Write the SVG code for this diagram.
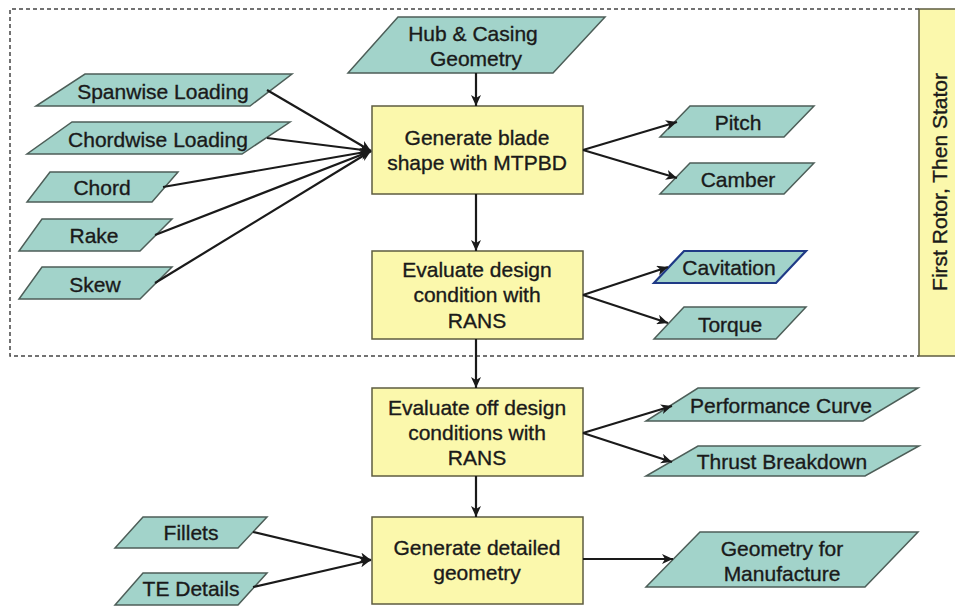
<svg xmlns="http://www.w3.org/2000/svg" width="955" height="606" viewBox="0 0 955 606">
<defs>
<marker id="ah" markerWidth="12" markerHeight="10" refX="11" refY="5" orient="auto" markerUnits="userSpaceOnUse">
<path d="M0,0 L11,5 L0,10 L3,5 Z" fill="#1a1a1a"/>
</marker>
<style>
text{font-family:"Liberation Sans",Arial,sans-serif;font-size:21px;fill:#1a1a1a;stroke:#1a1a1a;stroke-width:0.35;text-anchor:middle}
.para{fill:#a2d3ca;stroke:#4d5e58;stroke-width:1.5}
.box{fill:#fbf8ac;stroke:#5e5c40;stroke-width:1.5}
.conn{stroke:#1a1a1a;stroke-width:2.2;fill:none;marker-end:url(#ah)}
.dash{stroke:#444;stroke-width:1.5;fill:none;stroke-dasharray:4 3}
</style>
</defs>
<rect width="955" height="606" fill="#ffffff"/>
<path class="dash" d="M919,9 L10,9 L10,356 L919,356"/>
<g id="side">
<rect x="919" y="9" width="40" height="347" class="box"/>
<text transform="translate(947,182) rotate(-90)">First Rotor, Then Stator</text>
</g>
<g id="hub"><polygon class="para" points="398,17 605,17 553,73 348,73"/><text x="473" y="41">Hub &amp; Casing</text><text x="476" y="66">Geometry</text></g>
<g id="spanwise"><polygon class="para" points="85,74 292,74 250,106 36,106"/><text x="163" y="99">Spanwise Loading</text></g>
<g id="chordwise"><polygon class="para" points="72,122 290,122 242,154 27,154"/><text x="158" y="147">Chordwise Loading</text></g>
<g id="chord"><polygon class="para" points="50,172 178,172 152,202 27,202"/><text x="102" y="195">Chord</text></g>
<g id="rake"><polygon class="para" points="42,219 172,219 140,251 19,251"/><text x="94" y="243">Rake</text></g>
<g id="skew"><polygon class="para" points="42,267 172,267 140,299 19,299"/><text x="95" y="292">Skew</text></g>
<g id="genblade"><rect class="box" x="372" y="106" width="211" height="88"/><text x="477" y="145">Generate blade</text><text x="477" y="170">shape with MTPBD</text></g>
<g id="evaldesign"><rect class="box" x="372" y="251" width="211" height="88"/><text x="477" y="277">Evaluate design</text><text x="477" y="302">condition with</text><text x="477" y="328">RANS</text></g>
<g id="evaloff"><rect class="box" x="372" y="388" width="211" height="88"/><text x="477" y="415">Evaluate off design</text><text x="477" y="440">conditions with</text><text x="477" y="465">RANS</text></g>
<g id="gendetail"><rect class="box" x="372" y="517" width="211" height="87"/><text x="477" y="555">Generate detailed</text><text x="477" y="580">geometry</text></g>
<g id="pitch"><polygon class="para" points="690,106 814,106 784,137 660,137"/><text x="738" y="130">Pitch</text></g>
<g id="camber"><polygon class="para" points="690,163 814,163 784,194 660,194"/><text x="738" y="187">Camber</text></g>
<g id="cavitation"><polygon points="684,251 806,251 776,283 654,283" fill="#a2d3ca" stroke="#1f3a86" stroke-width="2.2"/><text x="729" y="275">Cavitation</text></g>
<g id="torque"><polygon class="para" points="684,307 806,307 776,339 654,339"/><text x="730" y="332">Torque</text></g>
<g id="perf"><polygon class="para" points="698,388 918,388 863,421 646,421"/><text x="781" y="413">Performance Curve</text></g>
<g id="thrust"><polygon class="para" points="698,446 919,446 865,476 646,476"/><text x="782" y="469">Thrust Breakdown</text></g>
<g id="geomfm"><polygon class="para" points="700,532 918,532 865,587 646,587"/><text x="782" y="556">Geometry for</text><text x="782" y="581">Manufacture</text></g>
<g id="fillets"><polygon class="para" points="143,517 267,517 238,548 115,548"/><text x="191" y="540">Fillets</text></g>
<g id="te"><polygon class="para" points="143,573 267,573 238,605 115,605"/><text x="191" y="596">TE Details</text></g>
<g id="connectors">
<line class="conn" x1="476" y1="73" x2="476" y2="106"/>
<line class="conn" x1="476" y1="194" x2="476" y2="251"/>
<line class="conn" x1="476" y1="339" x2="476" y2="388"/>
<line class="conn" x1="476" y1="476" x2="476" y2="517"/>
<line class="conn" x1="267" y1="90" x2="371" y2="151"/>
<line class="conn" x1="267" y1="138" x2="371" y2="151"/>
<line class="conn" x1="163" y1="187" x2="371" y2="151"/>
<line class="conn" x1="155" y1="235" x2="371" y2="151"/>
<line class="conn" x1="155" y1="283" x2="371" y2="151"/>
<line class="conn" x1="583" y1="150" x2="677" y2="122"/>
<line class="conn" x1="583" y1="150" x2="677" y2="178"/>
<line class="conn" x1="583" y1="295" x2="668" y2="267"/>
<line class="conn" x1="583" y1="295" x2="668" y2="323"/>
<line class="conn" x1="583" y1="433" x2="672" y2="406"/>
<line class="conn" x1="583" y1="433" x2="672" y2="462"/>
<line class="conn" x1="583" y1="559" x2="673" y2="559"/>
<line class="conn" x1="253" y1="532" x2="371" y2="560"/>
<line class="conn" x1="253" y1="587" x2="371" y2="560"/>
</g>
</svg>
